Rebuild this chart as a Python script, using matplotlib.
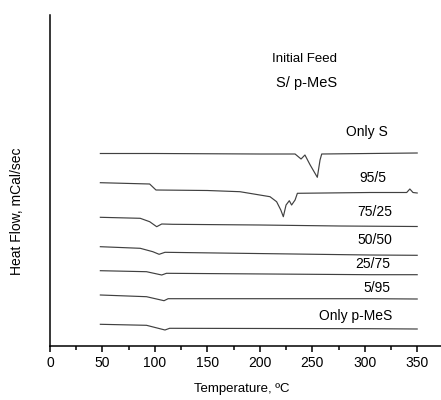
import matplotlib
matplotlib.use("Agg")
import matplotlib.pyplot as plt
from matplotlib.ticker import MultipleLocator

plt.rcParams['font.family'] = ['Liberation Sans', 'DejaVu Sans']

# DSC traces: temperature (°C) and heat flow (arbitrary, offset units)
t_only_s = [48, 100, 200, 233.6, 239.3, 243, 248, 254.8, 257.4, 259, 350]
h_only_s = [192.5, 192.5, 192, 192, 187, 191, 181, 168.7, 186, 192, 193]

t_95_5 = [48, 95, 101, 150, 181, 209.7, 216, 220, 222.4, 225, 228.1, 230.3,
          233.6, 235.8, 305, 340, 343, 346, 350]
h_95_5 = [163.3, 162, 156, 155.5, 154.3, 149.3, 144.3, 136, 129.3, 141, 145.3,
          141, 146, 152.7, 153.5, 153.5, 157, 153.5, 153]

t_75_25 = [48, 86, 95, 101.7, 106.5, 117, 200, 276, 350]
h_75_25 = [128.7, 127.7, 124.3, 119.3, 122, 121.7, 121, 120, 119.5]

t_50_50 = [48, 86, 98, 104, 109.6, 181, 305, 350]
h_50_50 = [99.3, 97.7, 94.3, 91.7, 93.7, 92.7, 91, 90.7]

t_25_75 = [48, 92, 106.5, 111, 305, 350]
h_25_75 = [75.3, 74.3, 71, 72.7, 71.3, 71.3]

t_5_95 = [48, 92, 108.7, 112.6, 305, 350]
h_5_95 = [51, 49.3, 45.3, 47.3, 47.3, 47]

t_only_p = [48, 92, 109.6, 114, 305, 350]
h_only_p = [21.7, 20.7, 16, 17.7, 17.3, 17]

labels = ["Only S", "95/5", "75/25", "50/50", "25/75", "5/95", "Only p-MeS"]
label_x = [302, 308, 310, 310, 308, 312, 291]
label_y = [214, 168, 134, 106, 82, 58, 30]

traces = [(t_only_s, h_only_s), (t_95_5, h_95_5), (t_75_25, h_75_25),
          (t_50_50, h_50_50), (t_25_75, h_25_75), (t_5_95, h_5_95),
          (t_only_p, h_only_p)]

fig = plt.figure(figsize=(4.41, 4.0), dpi=100)
ax = fig.add_axes([50/441, 54/400, 391/441, 331/400])

for t, h in traces:
    ax.plot(t, h, color='#404040', lw=0.85)

for lab, x, y in zip(labels, label_x, label_y):
    ax.text(x, y, lab, ha='center', va='center', fontsize=10)

ax.text(243, 287, "Initial Feed", ha='center', va='center', fontsize=9.5)
ax.text(245, 263, "S/ p-MeS", ha='center', va='center', fontsize=10.5)

ax.set_xlim(0, 372.7)
ax.set_ylim(0, 331)
ax.xaxis.set_major_locator(MultipleLocator(50))
ax.xaxis.set_minor_locator(MultipleLocator(25))
ax.set_yticks([])
ax.spines['top'].set_visible(False)
ax.spines['right'].set_visible(False)
ax.spines['left'].set_linewidth(1.1)
ax.spines['bottom'].set_linewidth(1.1)
ax.tick_params(axis='x', which='major', direction='out', length=4, width=1.1, labelsize=10, pad=3)
ax.tick_params(axis='x', which='minor', direction='out', length=3, width=1.1)

ax.set_xlabel("Temperature, ºC", fontsize=9.5)
ax.xaxis.set_label_coords(0.49, -0.113)
ax.set_ylabel("Heat Flow, mCal/sec", fontsize=10)
ax.yaxis.set_label_coords(-0.084, 0.408)
ax.yaxis.label.set_va('center')

fig.savefig("out.png", dpi=100)
